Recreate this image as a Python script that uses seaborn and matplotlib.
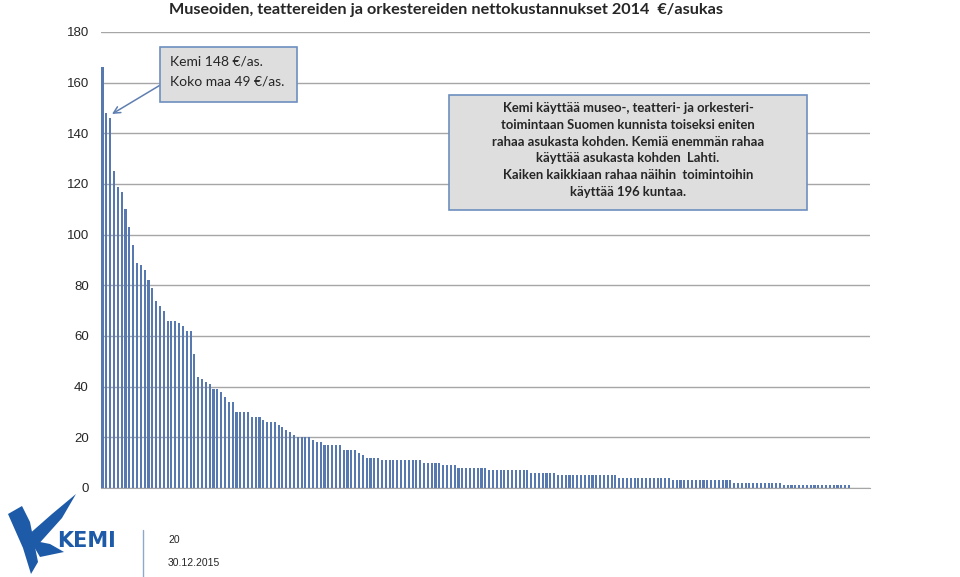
import numpy as np
import pandas as pd
import seaborn as sns
import matplotlib.pyplot as plt
from matplotlib.patches import Rectangle, Polygon

# net costs of museums, theatres and orchestras 2014, eur / inhabitant, sorted
euroa = [
    166, 148, 146, 125, 119, 117, 110, 103, 96, 89,
    88, 86, 82, 79, 74, 72, 70, 66, 66, 66,
    65, 64, 62, 62, 53, 44, 43, 42, 41, 39,
    39, 38, 36, 34, 34, 30, 30, 30, 30, 28,
    28, 28, 27, 26, 26, 26, 25, 24, 23, 22,
    21, 20, 20, 20, 20, 19, 18, 18, 17, 17,
    17, 17, 17, 15, 15, 15, 15, 14, 13, 12,
    12, 12, 12, 11, 11, 11, 11, 11, 11, 11,
    11, 11, 11, 11, 10, 10, 10, 10, 10, 9,
    9, 9, 9, 8, 8, 8, 8, 8, 8, 8,
    8, 7, 7, 7, 7, 7, 7, 7, 7, 7,
    7, 7, 6, 6, 6, 6, 6, 6, 6, 5,
    5, 5, 5, 5, 5, 5, 5, 5, 5, 5,
    5, 5, 5, 5, 5, 4, 4, 4, 4, 4,
    4, 4, 4, 4, 4, 4, 4, 4, 4, 3,
    3, 3, 3, 3, 3, 3, 3, 3, 3, 3,
    3, 3, 3, 3, 3, 2, 2, 2, 2, 2,
    2, 2, 2, 2, 2, 2, 2, 2, 1, 1,
    1, 1, 1, 1, 1, 1, 1, 1, 1, 1,
    1, 1, 1, 1, 1, 1,
]
kunta = list(range(1, len(euroa) + 1))
n_slots = 201  # category axis has a few empty slots at the end
y_ticks = [0, 20, 40, 60, 80, 100, 120, 140, 160, 180]

title = "Museoiden, teattereiden ja orkestereiden nettokustannukset 2014  \u20ac/asukas"
box1_lines = ["Kemi 148 \u20ac/as.", "Koko maa 49 \u20ac/as."]
box2_lines = [
    "Kemi k\u00e4ytt\u00e4\u00e4 museo-, teatteri- ja orkesteri-",
    "toimintaan Suomen kunnista toiseksi eniten",
    "rahaa asukasta kohden. Kemi\u00e4 enemm\u00e4n rahaa",
    "k\u00e4ytt\u00e4\u00e4 asukasta kohden  Lahti.",
    "Kaiken kaikkiaan rahaa n\u00e4ihin  toimintoihin",
    "k\u00e4ytt\u00e4\u00e4 196 kuntaa.",
]

df = pd.DataFrame({"kunta": kunta, "euroa": euroa})

sns.set_style("white")
plt.rcParams['font.family'] = ['Liberation Sans', 'DejaVu Sans']

W, H = 960, 577
fig = plt.figure(figsize=(W / 100, H / 100), dpi=100)


def px(x, y):
    return (x / W, 1 - y / H)


ax = fig.add_axes([100.6 / W, 89 / H, 769.4 / W, 456 / H])
sns.barplot(data=df, x="kunta", y="euroa", order=kunta, color="#5878b0",
            saturation=1, width=0.55, linewidth=0, ax=ax)
for bar in ax.patches:
    bar.set_antialiased(False)

ax.set_xlim(-0.5, n_slots - 0.5)
ax.set_ylim(0, 180)
ax.set_yticks(y_ticks)
ax.set_yticklabels([str(t) for t in y_ticks], fontsize=9.5)
ax.set_xticks([])
ax.set_xlabel("")
ax.set_ylabel("")
ax.yaxis.grid(True, color="#a6a6a6", lw=1)
ax.set_axisbelow(True)
ax.tick_params(axis="y", length=7.5, width=1, color="#a6a6a6", pad=1)
for s in ["top", "right", "left"]:
    ax.spines[s].set_visible(False)
ax.spines["bottom"].set_color("#a6a6a6")

fig.text(*px(446, 10), title, ha="center", va="center", fontsize=11.7,
         fontweight="bold", family=["Lato", "DejaVu Sans"])

# callout boxes
box_face, box_edge = "#dedede", "#6d8fbf"
x0, y0 = px(160, 102)
fig.patches.append(Rectangle((x0, y0), 137 / W, 55 / H, transform=fig.transFigure,
                             facecolor=box_face, edgecolor=box_edge, lw=1.2))
for i, line in enumerate(box1_lines):
    fig.text(*px(170, 62 + i * 20), line, ha="left", va="center", fontsize=10,
             family=["Lato", "DejaVu Sans"])

x0, y0 = px(449, 210)
fig.patches.append(Rectangle((x0, y0), 358 / W, 115 / H, transform=fig.transFigure,
                             facecolor=box_face, edgecolor=box_edge, lw=1.2))
for i, line in enumerate(box2_lines):
    fig.text(*px(628, 108 + i * 16.8), line, ha="center", va="center", fontsize=9.4,
             fontweight="bold", family=["Lato", "DejaVu Sans"])

# arrow from the first box to Kemi's bar
ax.annotate("", xy=px(112, 114), xycoords="figure fraction",
            xytext=px(162, 84), textcoords="figure fraction",
            arrowprops=dict(arrowstyle="->", color="#5f7fb0", lw=1.1,
                            mutation_scale=12, shrinkA=0, shrinkB=0))

# footer: logo, separator, page number and date
logo = "#1d5aa8"
for pts in [
    [(8, 514), (22, 506), (30, 522), (38, 562), (31, 574), (23, 548)],
    [(27, 536), (52, 514), (76, 494), (62, 518), (36, 547)],
    [(30, 540), (50, 544), (64, 552), (40, 557)],
]:
    fig.patches.append(Polygon([px(x, y) for x, y in pts], closed=True,
                               transform=fig.transFigure, facecolor=logo,
                               edgecolor="none"))
fig.text(*px(57, 541), "KEMI", ha="left", va="center", fontsize=15,
         fontweight="bold", color=logo, family="DejaVu Sans")
fig.add_artist(plt.Line2D([143 / W, 143 / W], [0, 1 - 530 / H],
                          transform=fig.transFigure, color="#8fa8c8", lw=1))
fig.text(*px(168, 540), "20", ha="left", va="center", fontsize=7.5)
fig.text(*px(168, 563), "30.12.2015", ha="left", va="center", fontsize=7.5)

fig.savefig("out.png", dpi=100)
